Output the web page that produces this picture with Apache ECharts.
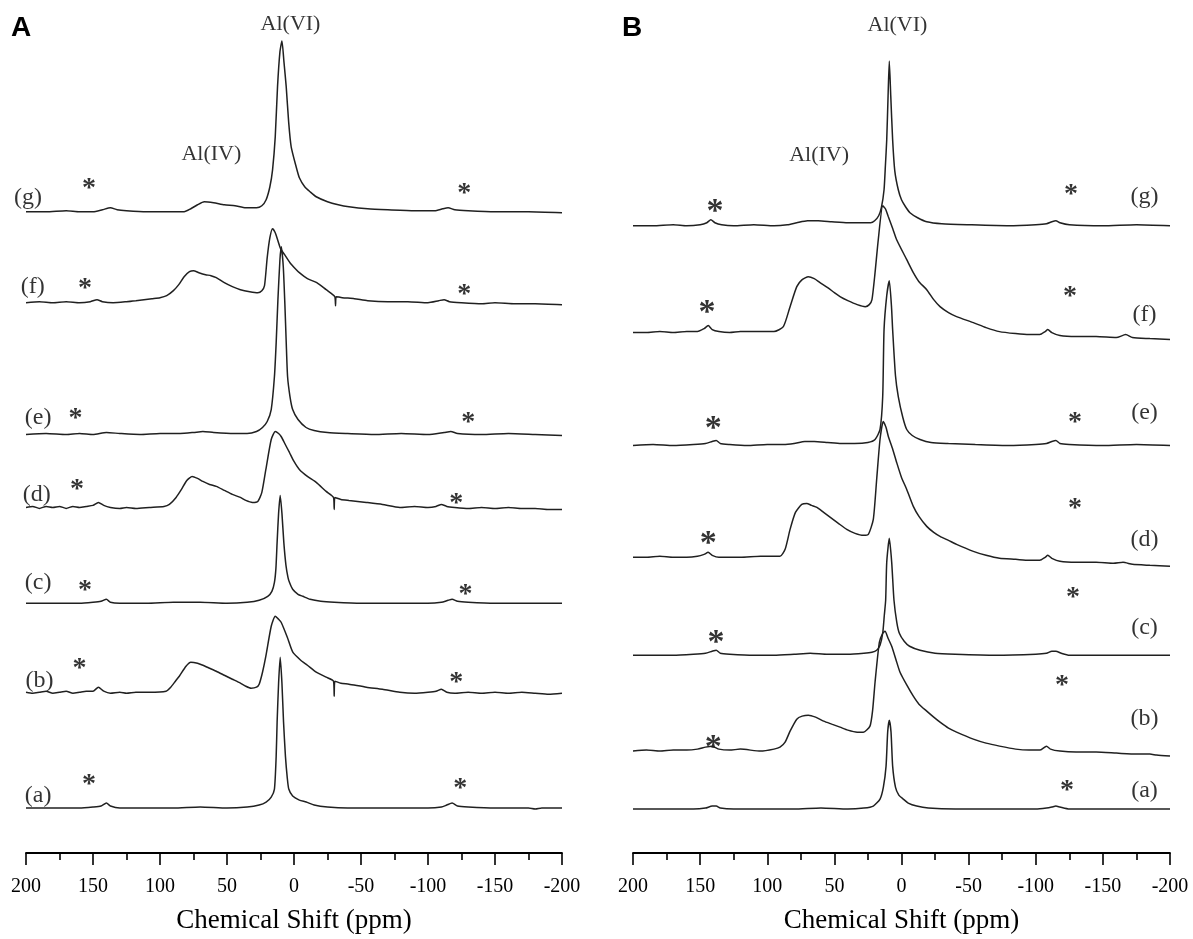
<!DOCTYPE html>
<html>
<head>
<meta charset="utf-8">
<script src="https://cdn.jsdelivr.net/npm/echarts@6/dist/echarts.min.js"></script>
<style>
html, body { margin: 0; padding: 0; background: #fff; }
#chart { width: 1193px; height: 939px; }
</style>
</head>
<body>
<div id="chart"></div>
<script>
const chart = echarts.init(document.getElementById('chart'));

// x axis ticks (ppm), reversed axis
const ticks = [200, 150, 100, 50, 0, -50, -100, -150, -200];
const sampleNames = ['(a)', '(b)', '(c)', '(d)', '(e)', '(f)', '(g)'];
const peakNames = ['Al(VI)', 'Al(IV)'];

// ---- panel A spectra: [ppm, intensity above own baseline] ----
const specA_a = [[200,0],[180,0],[160,0],[150,1],[144,2],[140,5],[137,2],[130,0],[110,0],[90,0],[70,1],[50,0],[35,1],[26,3],[20.8,6],[17,11],[14.6,19],[13.3,52],[12.6,86],[11.5,125],[10.3,151],[9,125],[7.8,86],[6.4,52],[5,30],[3.9,19],[1,12],[-4,8],[-9.1,6],[-15,3],[-25,1],[-40,0],[-80,0],[-100,0],[-110,1],[-114,3],[-118,5],[-122,2],[-130,1],[-150,0],[-175,0],[-180,-1],[-185,0],[-200,0]];
const specA_b = [[200,0],[195,-1],[190,0],[185,1],[180,-1],[175,0],[170,1],[165,-1],[160,0],[155,1],[150,1],[146,5],[142,1],[137,-1],[130,0],[125,-1],[118,0],[108,0],[95.5,1],[92,5],[88.5,11],[85.6,16],[80.6,26],[77,30],[72,29],[68,27],[63,24],[58,21],[52,17],[46,13],[40,9],[36,6],[32,4],[28,5],[26,8],[23.5,20],[21,36],[17,66],[14,76],[11.5,73],[9.6,70],[5,55],[0.9,40],[-5,32],[-10,27],[-16.6,20],[-24,15],[-29.5,11],[-30,-4],[-30.5,11],[-35,9],[-41,8],[-54,5],[-66,3],[-79,0],[-90,-1],[-100,0],[-106,1],[-110,3],[-114,0],[-120,-1],[-130,0],[-140,-1],[-150,0],[-160,-1],[-170,0],[-180,-1],[-190,-2],[-200,-1]];
const specA_c = [[200,0],[180,0],[160,0],[150,1],[144,2],[140,4],[137,1],[130,0],[110,0],[90,1],[70,1],[50,0],[35,1],[26,3],[19.6,7],[16.5,12],[14.6,21],[13.5,35],[12.6,61],[11.5,90],[10.3,108],[9,90],[7.6,61],[6,38],[4.5,26],[3.4,21],[1,14],[-3,9],[-6.6,7],[-12,4],[-20,2],[-30,1],[-50,0],[-80,0],[-100,0],[-110,1],[-115,3],[-118,4],[-122,2],[-130,1],[-150,0],[-200,0]];
const specA_d = [[200,0],[195,1],[190,-1],[185,1],[180,0],[175,1],[170,-1],[165,1],[160,0],[155,1],[150,2],[146,5],[142,2],[137,0],[130,-1],[125,0],[118,-1],[108,0],[97,1],[93,3],[88,10],[84,18],[80,27],[76,31],[72,29],[68,26],[63,23],[58,21],[52,17],[46,13],[40,10],[36,7],[31,5],[27,6],[24,15],[21,38],[17,68],[14,76],[11.5,74],[9.6,71],[6.5,63],[3.4,55],[0,46],[-4,38],[-10,31],[-16.6,25],[-24,16],[-29.5,10],[-30,-2],[-30.5,10],[-35,8],[-41,7],[-54,5],[-66,3],[-79,0],[-90,1],[-100,0],[-106,1],[-110,3],[-114,1],[-120,0],[-130,-1],[-140,0],[-150,-1],[-160,0],[-170,-1],[-180,-1],[-190,-2],[-200,-2]];
const specA_e = [[200,0],[185,1],[170,0],[160,1],[150,0],[140,2],[130,1],[115,0],[100,1],[85,1],[75,2],[68,3],[60,2],[45,1],[35,1],[28,3],[23.5,7],[20,13],[17,25],[14.6,58],[13.3,92],[12,135],[10.5,175],[9.5,188],[8,168],[6.8,130],[5.8,92],[4.8,58],[3,38],[1,25],[-3,15],[-9,7],[-15,4],[-25,2],[-40,1],[-60,0],[-80,1],[-100,0],[-112,2],[-117,3],[-122,1],[-140,0],[-160,1],[-180,0],[-200,-1]];
const specA_f = [[200,0],[190,1],[180,0],[170,1],[160,0],[152,1],[147,3],[143,1],[135,0],[125,1],[118,2],[112,3],[106,4],[100,5],[95,7],[90,12],[86,18],[82,26],[78,31],[75,32],[71,30],[66,28],[62,27],[58,25],[52,20],[46,16],[40,13],[33,11],[27,10],[24,12],[22,17],[20,45],[18,65],[16,74],[14,70],[12,62],[10,54],[7,48],[3,40],[-1,34],[-4,30],[-10,24],[-17,20],[-24,13],[-28,9],[-30.5,6],[-31,-3],[-31.5,6],[-36,5],[-45,4],[-55,2],[-70,1],[-85,1],[-100,0],[-108,2],[-112,3],[-116,1],[-125,0],[-140,-1],[-150,0],[-165,-1],[-180,-1],[-200,-2]];
const specA_g = [[200,0],[185,0],[170,1],[160,0],[150,0],[143,2],[137,4],[132,2],[125,1],[110,0],[95,0],[82,0],[77,3],[72,7],[67,10],[60,9],[52,7],[44,6],[36,4],[28,4],[24,6],[20.8,12],[18,25],[16,42],[14,75],[12.3,125],[10.5,160],[9,171],[7.5,150],[5.8,125],[4,90],[2.1,65],[-1.6,45],[-4,34],[-8,25],[-12,20],[-16.6,15],[-25,10],[-33,7],[-41,5],[-55,3],[-70,2],[-90,1],[-105,1],[-111,3],[-115,4],[-120,2],[-130,1],[-150,0],[-175,0],[-200,-1]];

// ---- panel B spectra ----
const specB_a = [[200,0],[185,0],[170,0],[155,0],[146,1],[141,3],[138,3],[135,1],[125,0],[100,0],[80,0],[60,1],[40,0],[28,1],[21,3],[16,10],[13.5,22],[11.5,43],[10.3,77],[9.1,89],[7.8,77],[6.6,43],[4.5,22],[2,14],[-1.3,10],[-5,6],[-11.3,3],[-20,1],[-40,0],[-80,0],[-100,0],[-108,1],[-112,2],[-115,3],[-118,2],[-125,0],[-150,0],[-175,0],[-200,0]];
const specB_b = [[200,-1],[190,0],[180,-1],[170,0],[160,0],[152,1],[146,3],[141,4],[136,1],[128,0],[120,1],[105,-1],[95,1],[90.5,3],[86.7,8],[83,19],[78,31],[74,34],[69.4,35],[64,33],[58,29],[52,26],[45.8,23],[40,20],[33,18],[28.4,18],[23.5,24],[21.5,40],[19.7,68],[16.5,108],[14,117],[12.3,119],[10,112],[7.3,104],[4,90],[1.1,78],[-4,65],[-8.8,54],[-13,46],[-18.8,39],[-24,33],[-28.7,28],[-35,22],[-41,18],[-53.5,11],[-63,7],[-73,4],[-85,1],[-95,0],[-103,0],[-108,4],[-111,1],[-118,-1],[-130,-2],[-145,-2],[-160,-3],[-175,-4],[-185,-4],[-190,-5],[-200,-6]];
const specB_c = [[200,0],[185,0],[170,0],[155,1],[146,2],[141,4],[138,5],[135,2],[128,1],[110,0],[95,0],[80,1],[68,2],[55,1],[40,1],[28,2],[22,3],[18.5,5],[16,10],[14,22],[12.8,40],[11.8,55],[11,93],[9.1,117],[7.3,93],[5.6,55],[3.5,33],[1.6,22],[-2,14],[-6,9],[-13.8,5],[-25,2],[-40,1],[-70,0],[-100,1],[-108,2],[-112,4],[-115,4],[-119,2],[-125,0],[-150,0],[-175,0],[-200,0]];
const specB_d = [[200,0],[190,0],[180,1],[170,0],[160,0],[152,1],[147,3],[144,5],[141,2],[136,0],[128,0],[120,0],[105,1],[90.5,1],[86.7,8],[83,28],[79,45],[74.3,53],[70.6,54],[67,52],[63,50],[58,45],[53,40],[47,34],[40.8,28],[34.6,24],[28.4,22],[24.7,23],[21,38],[18.5,78],[16,118],[13.6,136],[11.5,130],[9.8,121],[6.5,108],[3.6,95],[0,80],[-3.9,68],[-8.8,51],[-13,41],[-18.8,31],[-24,25],[-28.7,21],[-35,17],[-41,13],[-53.5,6],[-63,2],[-73,-1],[-85,-2],[-95,-3],[-103,-3],[-107,0],[-109,2],[-112,-1],[-118,-4],[-130,-5],[-145,-5],[-158,-6],[-165,-5],[-172,-7],[-185,-8],[-200,-9]];
const specB_e = [[200,0],[185,1],[170,0],[155,1],[146,2],[141,4],[138,5],[135,2],[128,1],[115,0],[100,1],[88,1],[80,2],[72,4],[65,4],[55,3],[45,2],[35,2],[25,3],[19.7,6],[16,16],[14,49],[13,116],[11,150],[9.1,165],[7.5,140],[6.6,116],[4.5,70],[2.4,49],[-1,28],[-3.9,16],[-8,10],[-13.8,6],[-22,3],[-35,2],[-55,1],[-80,0],[-100,1],[-108,2],[-112,4],[-115,5],[-118,2],[-125,1],[-150,0],[-175,1],[-200,0]];
const specB_f = [[200,0],[190,0],[180,1],[170,0],[160,1],[152,1],[147,4],[144,7],[141,3],[136,1],[128,0],[120,1],[108,1],[95,1],[88,6],[83,26],[78,46],[74,53],[69.4,56],[65,54],[60.7,50],[55,45],[50,40],[45.8,36],[40,32],[33,28],[27,26],[24,28],[22,33],[19.7,60],[17.3,93],[14,127],[12,124],[9.8,116],[6.5,104],[3.6,93],[-3.9,73],[-8.8,60],[-13,51],[-18.8,43],[-24,33],[-28.7,26],[-35,20],[-41,16],[-53.5,10],[-63,5],[-73,1],[-85,-1],[-95,-2],[-103,-2],[-107,1],[-109,3],[-112,0],[-118,-3],[-130,-4],[-145,-4],[-160,-5],[-167,-2],[-172,-5],[-185,-6],[-200,-7]];
const specB_g = [[200,0],[185,0],[170,1],[160,0],[150,1],[145,3],[142,6],[139,3],[134,1],[125,0],[110,1],[95,0],[85,1],[78,3],[70,5],[62,5],[52,4],[40,3],[30,3],[23,3],[20,5],[17,10],[15,18],[13,36],[12,60],[11,86],[10,130],[9.1,165],[8,130],[6.6,86],[5,55],[2.4,36],[0,26],[-3,19],[-6.3,13],[-12,8],[-18.8,4],[-30,2],[-50,1],[-80,0],[-100,1],[-108,2],[-112,4],[-115,5],[-118,3],[-125,1],[-150,0],[-175,1],[-200,0]];

const specsA = [specA_a, specA_b, specA_c, specA_d, specA_e, specA_f, specA_g];
const specsB = [specB_a, specB_b, specB_c, specB_d, specB_e, specB_f, specB_g];

// vertical stacking offset of each trace, (a) .. (g)
const offsetsA = [45, 161, 250, 346, 419, 551, 642];
const offsetsB = [44, 103, 198, 296, 408, 521, 628];

// sample label [ppm, height above trace baseline]
const labelsA = [[191,12],[190,11],[191,21],[192,13],[191,17],[195,16],[198.5,14]];
const labelsB = [[-181,18],[-181,31],[-181,28],[-181,18],[-181,33],[-181,18],[-181,29]];

// spinning side band asterisks: [ppm, height above baseline]
const starsA_left = [[153,28],[160,28],[156,18],[162,23],[163,21],[156,19],[153,28]];
const starsA_right = [[-124,24],[-121,14],[-128,14],[-121,9],[-130,17],[-127,13],[-127,23]];
const starsB_left = [null,[140.3,9],[138.2,19],[144,20],[140.3,23],[144.8,26],[138.9,21]];
const starsB_right = [[-123.3,23],[-119.5,69],[-127.7,63],[-129.2,54],[-129.2,28],[-125.5,41],[-126.2,36]];

// Al(VI), Al(IV) labels [ppm, y]
const peakPosA = [[2.6,830],[61.7,700]];
const peakPosB = [[3,829],[61.4,699]];

const serif = 'Liberation Serif';
const axisTop = 854;

function makeXAxis(idx) {
  return {
    gridIndex: idx, type: 'value', inverse: true,
    min: ticks[ticks.length - 1], max: ticks[0], interval: 50,
    name: 'Chemical Shift (ppm)', nameLocation: 'middle', nameGap: 54,
    nameTextStyle: { fontFamily: serif, fontSize: 27, color: '#000' },
    axisLine: { show: true, lineStyle: { color: '#000', width: 1.8 } },
    axisTick: { show: true, length: 12, lineStyle: { color: '#000', width: 1.6 } },
    minorTick: { show: true, splitNumber: 2, length: 7, lineStyle: { color: '#000', width: 1.6 } },
    splitLine: { show: false },
    axisLabel: { fontFamily: serif, fontSize: 20, color: '#000', margin: 24 }
  };
}

function makeYAxis(idx) {
  return { gridIndex: idx, type: 'value', min: 0, max: axisTop, show: false };
}

function traceSeries(specs, offsets, idx) {
  return specs.map((s, i) => ({
    type: 'line', xAxisIndex: idx, yAxisIndex: idx,
    name: sampleNames[i],
    data: s.map(p => [p[0], p[1] + offsets[i]]),
    symbol: 'none', silent: true, clip: false,
    smooth: 0.2,
    lineStyle: { color: '#202020', width: 1.5 }
  }));
}

function textSeries(items, idx, size, bold, dy) {
  return {
    type: 'scatter', xAxisIndex: idx, yAxisIndex: idx,
    symbolSize: 0, silent: true, clip: false,
    data: items,
    label: {
      show: true, position: 'inside', formatter: '{b}',
      fontFamily: serif, fontSize: size, fontWeight: bold ? 'bold' : 'normal',
      color: '#000', offset: [0, dy || 0]
    }
  };
}

function relItems(list, offsets, textFn) {
  const out = [];
  list.forEach((p, i) => {
    if (p) out.push({ name: textFn(i), value: [p[0], offsets[i] + p[1]] });
  });
  return out;
}

const star = () => '*';

const series = [].concat(
  traceSeries(specsA, offsetsA, 0),
  traceSeries(specsB, offsetsB, 1),
  textSeries(relItems(labelsA, offsetsA, i => sampleNames[i]), 0, 24),
  textSeries(relItems(labelsB, offsetsB, i => sampleNames[i]), 1, 24),
  textSeries(relItems(starsA_left, offsetsA, star), 0, 28, true, 5),
  textSeries(relItems(starsA_right, offsetsA, star), 0, 28, true, 5),
  textSeries(relItems(starsB_left, offsetsB, star), 1, 34, true, 7),
  textSeries(relItems(starsB_right, offsetsB, star), 1, 28, true, 5),
  textSeries(peakPosA.map((p, i) => ({ name: peakNames[i], value: p })), 0, 22),
  textSeries(peakPosB.map((p, i) => ({ name: peakNames[i], value: p })), 1, 22)
);

const option = {
  animation: false,
  backgroundColor: '#fff',
  grid: [
    { left: 26, width: 536, top: 0, height: axisTop },
    { left: 633, width: 537, top: 0, height: axisTop }
  ],
  xAxis: [makeXAxis(0), makeXAxis(1)],
  yAxis: [makeYAxis(0), makeYAxis(1)],
  graphic: [
    { type: 'text', left: 11, top: 14, style: { text: 'A', font: 'bold 28px "Liberation Sans"', fill: '#000' } },
    { type: 'text', left: 622, top: 14, style: { text: 'B', font: 'bold 28px "Liberation Sans"', fill: '#000' } }
  ],
  series: series
};

chart.setOption(option);
</script>
</body>
</html>
